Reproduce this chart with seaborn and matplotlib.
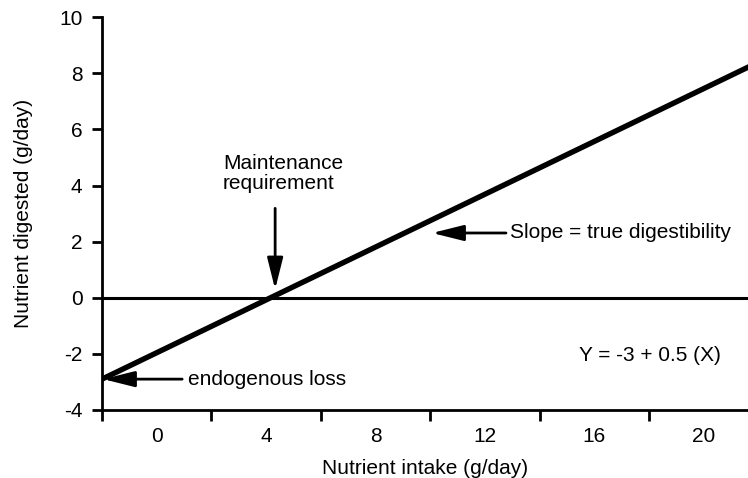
import matplotlib
matplotlib.use("Agg")
import matplotlib.pyplot as plt
import seaborn as sns
import pandas as pd

# ---- data ----
intake = [-2.0, 22.0]            # nutrient intake (g/day)
digested = [-2.9, 8.4]           # nutrient digested (g/day)
x_label_values = [0, 4, 8, 12, 16, 20]
x_label_texts = ["0", "4", "8", "12", "16", "20"]
x_tick_edges = [-2, 2, 6, 10, 14, 18]
y_ticks = [-4, -2, 0, 2, 4, 6, 8, 10]
y_tick_texts = ["-4", "-2", "0", "2", "4", "6", "8", "10"]

sns.set_style("ticks")
plt.rcParams["font.family"] = ["Liberation Sans", "DejaVu Sans"]
plt.rcParams["axes.unicode_minus"] = False
FS = 15

fig = plt.figure(figsize=(7.48, 4.78), dpi=100)
ax = fig.add_axes([0.1364, 0.1423, 0.8636, 0.8215])

df = pd.DataFrame({"intake": intake, "digested": digested})
sns.lineplot(data=df, x="intake", y="digested", color="black", lw=3.9, ax=ax,
             solid_capstyle="butt")
ax.axhline(0, color="black", lw=2.2)

ax.set_xlim(-2, 21.62)
ax.set_ylim(-4, 10)

ax.set_xticks(x_tick_edges)
ax.set_xticklabels([])
ax.set_xticks(x_label_values, minor=True)
ax.set_xticklabels(x_label_texts, minor=True, fontsize=FS)
ax.tick_params(axis="x", which="major", length=8, width=2, direction="out", color="black")
ax.tick_params(axis="x", which="minor", length=0, pad=12.5, labelcolor="black")

ax.set_yticks(y_ticks)
ax.set_yticklabels(y_tick_texts, fontsize=FS)
ax.tick_params(axis="y", length=7, width=2, direction="out", pad=7, color="black",
               labelcolor="black")

for s in ["top", "right"]:
    ax.spines[s].set_visible(False)
for s in ["left", "bottom"]:
    ax.spines[s].set_linewidth(2)
    ax.spines[s].set_color("black")

ax.set_xlabel("Nutrient intake (g/day)", fontsize=FS, color="black", labelpad=9)
ax.set_ylabel("Nutrient digested (g/day)", fontsize=FS, color="black", labelpad=19)

arrow = dict(arrowstyle="-|>,head_length=1.6,head_width=0.4", mutation_scale=12,
             lw=2, color="black", shrinkA=0, shrinkB=0)

ax.text(2.42, 4.43, "Maintenance\nrequirement", fontsize=FS, ha="left", va="center",
        multialignment="left", color="black", linespacing=1.1)
ax.annotate("", xy=(4.33, 0.3), xytext=(4.33, 3.19), arrowprops=arrow)

ax.annotate("", xy=(10.07, 2.31), xytext=(12.77, 2.31), arrowprops=arrow)
ax.text(12.92, 2.31, "Slope = true digestibility", fontsize=FS, ha="left", va="center",
        color="black")

ax.annotate("", xy=(-1.96, -2.9), xytext=(0.93, -2.9), arrowprops=arrow)
ax.text(1.14, -2.9, "endogenous loss", fontsize=FS, ha="left", va="center", color="black")

ax.text(18.04, -2.04, "Y = -3 + 0.5 (X)", fontsize=FS, ha="center", va="center",
        color="black")

fig.savefig("out.png", dpi=100)
